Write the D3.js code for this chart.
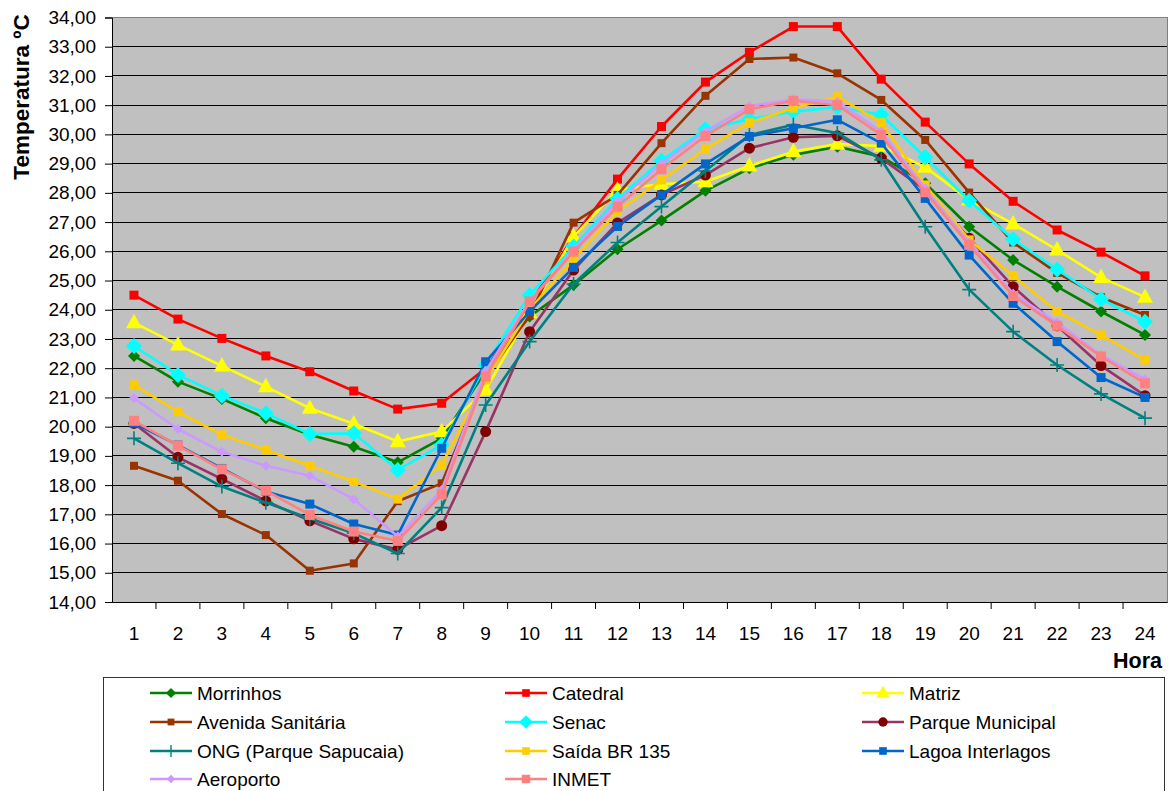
<!DOCTYPE html>
<html><head><meta charset="utf-8">
<script src="https://cdn.jsdelivr.net/npm/d3@7/dist/d3.min.js"></script>
<style>body{margin:0;background:#fff}svg{display:block;font-family:"Liberation Sans",Arial,sans-serif}</style>
</head><body>
<svg id="c" width="1170" height="791"></svg>
<script>
const hours = d3.range(1, 25);
const yTicks = d3.range(14, 35, 1);
const seriesNames = ["Morrinhos","Catedral","Matriz","Avenida Sanitária","Senac","Parque Municipal","ONG (Parque Sapucaia)","Saída BR 135","Lagoa Interlagos","Aeroporto","INMET"];
const morrinhos = [22.42,21.54,20.95,20.29,19.72,19.31,18.78,19.6,21.9,23.77,24.85,26.07,27.05,28.07,28.84,29.3,29.58,29.24,28.33,26.84,25.7,24.79,23.94,23.14];
const catedral = [24.5,23.68,23.02,22.42,21.88,21.22,20.6,20.8,22.0,24.2,26.5,28.47,30.27,31.79,32.81,33.69,33.69,31.89,30.42,28.99,27.71,26.73,25.97,25.16];
const matriz = [23.56,22.8,22.08,21.37,20.63,20.1,19.49,19.83,21.26,23.9,26.5,28.1,28.3,28.38,28.92,29.41,29.67,29.6,28.88,27.76,26.94,26.05,25.11,24.43];
const avenida = [18.66,18.15,17.01,16.29,15.07,15.32,17.45,18.06,21.7,23.8,26.98,27.93,29.7,31.32,32.58,32.63,32.09,31.18,29.81,28.01,26.3,25.26,24.43,23.82];
const senac = [22.76,21.77,21.06,20.46,19.75,19.77,18.52,19.37,22.1,24.5,26.16,27.8,29.1,30.18,30.52,30.78,30.93,30.67,29.22,27.73,26.41,25.38,24.36,23.59];
const parque = [20.11,18.95,18.21,17.46,16.78,16.16,15.8,16.61,19.83,23.25,25.36,26.97,27.93,28.61,29.53,29.9,29.95,29.18,28.1,26.45,24.79,23.45,22.09,21.06];
const ong = [19.6,18.75,17.95,17.4,16.86,16.35,15.66,17.23,20.74,22.91,24.88,26.3,27.53,28.75,29.98,30.33,30.05,29.13,26.84,24.69,23.25,22.11,21.12,20.29];
const saida = [21.43,20.51,19.72,19.2,18.66,18.12,17.52,18.69,21.6,24.0,25.74,27.36,28.44,29.5,30.4,30.9,31.29,30.4,28.27,26.39,25.16,23.94,23.14,22.28];
const lagoa = [20.12,19.37,18.57,17.78,17.35,16.67,16.29,19.26,22.22,23.94,25.45,26.85,27.93,28.99,29.93,30.21,30.5,29.7,27.81,25.87,24.22,22.91,21.68,21.0];
const aeroporto = [20.97,19.92,19.14,18.66,18.32,17.52,16.24,17.83,21.9,24.3,26.05,27.7,29.0,30.1,30.97,31.2,31.12,30.1,28.16,26.3,24.55,23.56,22.45,21.62];
const inmet = [20.2,19.35,18.54,17.81,16.98,16.41,16.09,17.68,21.71,24.28,25.99,27.53,28.81,29.95,30.86,31.15,31.0,29.98,28.02,26.22,24.47,23.45,22.4,21.48];
const seriesValues = [morrinhos,catedral,matriz,avenida,senac,parque,ong,saida,lagoa,aeroporto,inmet];

const styles = [
  {line:"#008000", fill:"#008000", m:"diamond", s:6},
  {line:"#FF0000", fill:"#FF0000", m:"square", s:9},
  {line:"#FFFF00", fill:"#FFFF00", m:"triangle", s:16},
  {line:"#993300", fill:"#993300", m:"square", s:8},
  {line:"#00FFFF", fill:"#00FFFF", m:"diamond", s:8},
  {line:"#993366", fill:"#800000", m:"circle", s:5.5},
  {line:"#008080", fill:"#008080", m:"plus", s:7},
  {line:"#FFCC00", fill:"#FFCC00", m:"square", s:9},
  {line:"#0066CC", fill:"#0066CC", m:"square", s:9},
  {line:"#CC99FF", fill:"#CC99FF", m:"diamond", s:5},
  {line:"#FF8080", fill:"#FF8080", m:"square", s:10}
];

function markerPath(m, s){
  if(m==="diamond") return `M0,${-s}L${s},0L0,${s}L${-s},0Z`;
  if(m==="square") return `M${-s/2},${-s/2}h${s}v${s}h${-s}Z`;
  if(m==="triangle") return `M0,${-s*0.55}L${s/2},${s*0.35}L${-s/2},${s*0.35}Z`;
  if(m==="circle") return d3.symbol(d3.symbolCircle, Math.PI*s*s)();
  if(m==="plus") return `M${-s},0H${s}M0,${-s}V${s}`;
}

const svg = d3.select("#c");
const L=112, R=1167, T=17.5, B=602;
const x = d3.scaleBand().domain(hours).range([L,R]).padding(0);
const y = d3.scaleLinear().domain([14,34]).range([B,T]);
const cx = h => x(h) + x.bandwidth()/2;

svg.append("rect").attr("x",L).attr("y",T).attr("width",R-L).attr("height",B-T).attr("fill","#C0C0C0");
svg.append("g").selectAll("line").data(yTicks.slice(1)).join("line")
  .attr("x1",L).attr("x2",R).attr("y1",d=>y(d)).attr("y2",d=>y(d))
  .attr("stroke","#000").attr("stroke-width",1).attr("shape-rendering","crispEdges");
svg.append("rect").attr("x",L).attr("y",T).attr("width",R-L).attr("height",B-T)
  .attr("fill","none").attr("stroke","#808080").attr("stroke-width",1).attr("shape-rendering","crispEdges");

// y axis
const ya = svg.append("g").attr("transform",`translate(${L},0)`)
  .call(d3.axisLeft(y).tickValues(yTicks).tickSize(7).tickPadding(9).tickFormat(d=>d.toFixed(2).replace(".",",")));
ya.select(".domain").attr("stroke","#000");
ya.selectAll("line").attr("stroke","#000");
ya.selectAll("text").attr("font-size",19).attr("fill","#000").attr("font-family","Liberation Sans, Arial, sans-serif");

// x axis
const xa = svg.append("g").attr("transform",`translate(0,${B})`)
  .call(d3.axisBottom(x).tickSize(0).tickPadding(25));
xa.select(".domain").attr("stroke","#000");
xa.selectAll("text").attr("font-size",19).attr("fill","#000").attr("font-family","Liberation Sans, Arial, sans-serif");
xa.append("g").selectAll("line").data(hours.slice(0,-1)).join("line")
  .attr("x1",d=>x(d)+x.bandwidth()).attr("x2",d=>x(d)+x.bandwidth()).attr("y1",0).attr("y2",7)
  .attr("stroke","#000");

svg.append("text").attr("x",1162).attr("y",668).attr("text-anchor","end")
  .attr("font-size",21.5).attr("font-weight","bold").text("Hora");
svg.append("text").attr("transform","translate(29,97) rotate(-90)").attr("text-anchor","middle")
  .attr("font-size",22.5).attr("font-weight","bold").text("Temperatura ºC");

// series
const line = d3.line().x((d,i)=>cx(hours[i])).y(d=>y(d));
seriesValues.forEach((vals, k)=>{
  const st = styles[k];
  const g = svg.append("g");
  g.append("path").datum(vals).attr("d",line).attr("fill","none")
    .attr("stroke",st.line).attr("stroke-width",2.6).attr("stroke-linejoin","round");
  g.selectAll("path.m").data(vals).join("path").attr("class","m")
    .attr("transform",(d,i)=>`translate(${cx(hours[i])},${y(d)})`)
    .attr("d",markerPath(st.m, st.s))
    .attr("fill", st.m==="plus" ? "none" : st.fill)
    .attr("stroke", st.m==="plus" ? st.fill : "none")
    .attr("stroke-width", st.m==="plus" ? 1.6 : 0);
});

// legend
svg.append("rect").attr("x",103.5).attr("y",677.5).attr("width",1061).attr("height",130)
  .attr("fill","#fff").attr("stroke","#333").attr("stroke-width",1);
const colX = [150, 505, 862];
const rowY = [693, 722, 751, 779];
const lg = svg.append("g");
seriesNames.forEach((n,k)=>{
  const st = styles[k];
  const gx = colX[k%3], gy = rowY[Math.floor(k/3)];
  const g = lg.append("g").attr("transform",`translate(${gx},${gy})`);
  g.append("line").attr("x1",0).attr("x2",42).attr("y1",0).attr("y2",0).attr("stroke",st.line).attr("stroke-width",2.6);
  g.append("path").attr("transform","translate(21,0)").attr("d",markerPath(st.m, st.s*0.85))
    .attr("fill", st.m==="plus" ? "none" : st.fill)
    .attr("stroke", st.m==="plus" ? st.fill : "none").attr("stroke-width",1.4);
  g.append("text").attr("x",47).attr("y",7).attr("font-size",19).text(n);
});
</script>
</body></html>
